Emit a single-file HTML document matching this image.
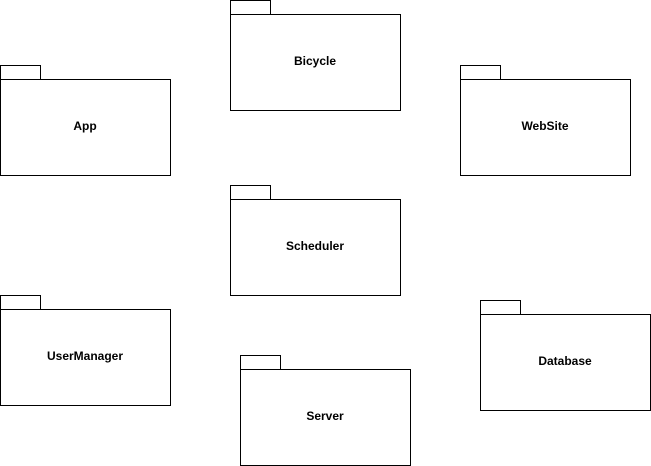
<!DOCTYPE html>
<html><head><meta charset="utf-8"><style>html,body{margin:0;padding:0;background:#fff;}svg{display:block}</style></head>
<body>
<svg width="651" height="466" xmlns="http://www.w3.org/2000/svg" font-family="Liberation Sans, Arial, sans-serif" font-size="12" font-weight="bold" text-anchor="middle">
<g fill="#fff" stroke="#000" stroke-width="1">
<rect x="230.5" y="0.5" width="40" height="14"/><rect x="230.5" y="14.5" width="170" height="96"/>
<rect x="0.5" y="65.5" width="40" height="14"/><rect x="0.5" y="79.5" width="170" height="96"/>
<rect x="460.5" y="65.5" width="40" height="14"/><rect x="460.5" y="79.5" width="170" height="96"/>
<rect x="230.5" y="185.5" width="40" height="14"/><rect x="230.5" y="199.5" width="170" height="96"/>
<rect x="0.5" y="295.5" width="40" height="14"/><rect x="0.5" y="309.5" width="170" height="96"/>
<rect x="240.5" y="355.5" width="40" height="14"/><rect x="240.5" y="369.5" width="170" height="96"/>
<rect x="480.5" y="300.5" width="40" height="14"/><rect x="480.5" y="314.5" width="170" height="96"/>
</g>
<g fill="#000">
<text x="315" y="65">Bicycle</text>
<text x="85" y="130">App</text>
<text x="545" y="130">WebSite</text>
<text x="315" y="250">Scheduler</text>
<text x="85" y="360">UserManager</text>
<text x="325" y="420">Server</text>
<text x="565" y="365">Database</text>
</g>
</svg>
</body></html>
